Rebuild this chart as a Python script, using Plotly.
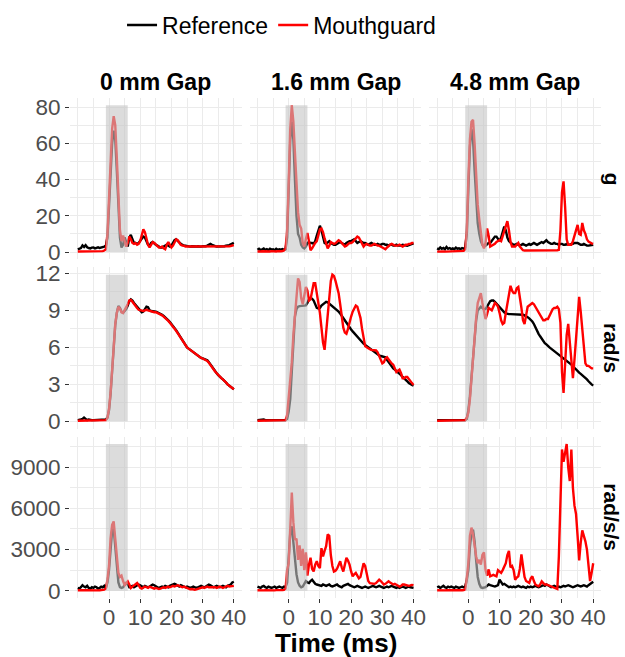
import numpy as np
import plotly.graph_objects as go
from plotly.subplots import make_subplots

# Sampling times (ms) shared by every trace
TIME_MS = np.arange(-10, 40.5, 0.5)

GAPS = ["0 mm Gap", "1.6 mm Gap", "4.8 mm Gap"]
UNITS = ["g", "rad/s", "rad/s/s"]
SERIES = ["Reference", "Mouthguard"]
SHADE_WINDOW = [-1, 6]          # impact window highlighted in every panel (ms)
X_TICKS = [0, 10, 20, 30, 40]
Y_TICKS = [[0, 20, 40, 60, 80], [0, 3, 6, 9, 12], [0, 3000, 6000, 9000]]

# ---- linear acceleration (g) ----
G_REF_0 = [1.5, 1.8, 2.2, 3.6, 2.8, 3.8, 2.6, 2.2, 2.0, 2.4,
           2.5, 2.0, 2.4, 2.6, 2.2, 2.4, 2.8, 3.0, 3.5, 8,
           25, 45, 60, 67, 62, 45, 25, 8, 2.5, 4,
           8, 5, 3, 8, 9.5, 7, 5, 5, 4.5, 5,
           6, 7, 8.5, 8, 6, 4, 3.5, 5, 5.5, 4.5,
           4, 3.5, 3, 2.5, 2.5, 3, 3.5, 4, 3.5, 3,
           3.5, 5, 6.5, 7, 6, 5, 4.5, 4, 3.5, 3.5,
           3.2, 3.0, 3.0, 3.2, 3.0, 2.8, 3.0, 3.2, 3.0, 3.0,
           3.2, 3.0, 3.2, 3.5, 3.8, 4.5, 4.0, 3.5, 3.2, 3.0,
           3.0, 3.2, 3.0, 3.0, 3.2, 3.5, 3.5, 3.8, 4.2, 4.8,
           5.0]
G_MG_0 = [0.3, 0.3, 0.4, 0.3, 0.3, 0.4, 0.3, 0.3, 0.3, 0.4,
          0.3, 0.3, 0.4, 0.3, 0.3, 0.4, 0.5, 0.8, 1.5, 10,
          30, 52, 68, 75, 70, 52, 30, 12, 6, 9,
          6, 3, 5, 8.5, 7, 5, 4.5, 5, 4, 4.5,
          6, 9, 12.5, 11, 7, 4, 2.5, 4, 5.5, 5,
          4, 3, 2.5, 2.5, 3, 2, 1.5, 4, 5.5, 4,
          2.5, 3.5, 5.5, 7, 6.5, 5, 4, 3.5, 3.5, 3,
          3, 3, 2.8, 2.8, 3, 3, 3, 2.8, 2.8, 3,
          3, 3, 3, 3.2, 3, 2.8, 2.8, 3, 3, 3,
          3, 3, 3.2, 3, 3, 3, 3, 3.2, 3.3, 3.5,
          3.8]
G_REF_16 = [1.2, 1.8, 1.0, 1.5, 2.0, 1.2, 1.6, 1.0, 1.8, 1.3,
            1.5, 1.0, 1.8, 1.2, 1.5, 1.3, 1.6, 1.2, 1.5, 8,
            35, 62, 72, 62, 40, 20, 10, 8, 4, 2.5,
            2, 3, 5, 5.5, 5, 5, 4.5, 6, 9, 12,
            14.5, 12, 8, 5, 4.5, 5.5, 6, 5, 4.5, 4,
            4, 4.5, 5, 5.5, 5, 4.5, 4, 5, 5.5, 6,
            6, 6.5, 7, 6, 5, 5.5, 6, 5.5, 5, 5,
            4.5, 4, 4.5, 5, 4.5, 4, 4, 4.5, 4, 4,
            4.5, 4.5, 4, 4, 3.5, 4, 4, 3.5, 3.5, 4,
            3.5, 3.5, 3.5, 4, 3.8, 3.5, 3.5, 3.8, 4, 4.5,
            4.8]
G_MG_16 = [0.3, 0.5, 0.3, 0.4, 0.3, 0.5, 0.3, 0.4, 0.3, 0.5,
           0.3, 0.4, 0.3, 0.5, 0.3, 0.4, 0.5, 0.8, 2, 12,
           38, 68, 81, 72, 55, 40, 22, 15, 13, 5,
           3, 7, 10.5, 6, 1, 2, 4, 5, 6, 9,
           12.5, 13, 11, 7.5, 4, 2, 3.5, 5.5, 5, 4.5,
           4.8, 5.5, 6.5, 6, 5, 4, 3, 3.5, 4.5, 5,
           5, 5.5, 6.5, 7.5, 8.5, 8, 6, 4, 3, 4,
           4.5, 4, 3.5, 3.5, 4, 4.5, 4, 3.5, 3.5, 3,
           2.5, 2, 1.5, 2.5, 3.5, 4, 4.5, 4, 3.5, 3.5,
           3.5, 4, 3.5, 3, 3.5, 4, 4, 4.5, 4.5, 5,
           5]
G_REF_48 = [2.0, 1.5, 2.5, 1.8, 2.2, 1.5, 2.8, 1.8, 2.2, 1.6,
            2.0, 1.5, 2.4, 1.8, 2.0, 1.6, 2.2, 1.8, 2.5, 10,
            35, 58, 68, 62, 45, 28, 16, 10, 6, 4,
            3, 3.5, 4.5, 5, 5, 6, 7, 8.5, 8.5, 7,
            6, 8, 11, 14, 12, 8, 6, 5, 4.5, 4,
            4, 4.5, 4, 3.5, 4, 4.5, 4, 3.5, 4, 4.5,
            4, 4.5, 5, 4.5, 4, 4.5, 5, 5.5, 5, 6,
            6.5, 5.5, 5, 4.5, 4.5, 5, 4.5, 4.5, 4, 4.5,
            4.5, 4, 4, 4.5, 4, 4, 4.5, 4.5, 5, 5.2,
            5, 4.5, 4, 4, 4.5, 4, 3.5, 3.5, 3.8, 4,
            4]
G_MG_48 = [0.2, 0.3, 0.2, 0.2, 0.3, 0.2, 0.2, 0.3, 0.2, 0.2,
           0.2, 0.3, 0.2, 0.3, 0.2, 0.3, 0.4, 0.6, 1.5, 12,
           40, 62, 72, 73, 60, 42, 26, 18, 10, 4,
           2, 5, 13, 9, 3, 3.5, 4, 4.5, 5.5, 6,
           6.5, 6, 8.5, 11, 14, 17, 12, 5.7, 3, 3,
           3, 4, 5, 3, 2, 1, 0.8, 0.8, 0.7, 0.8,
           0.8, 0.7, 0.8, 0.8, 0.7, 0.8, 0.7, 0.8, 0.8, 0.7,
           0.8, 0.7, 0.8, 0.7, 0.8, 0.8, 0.8, 1.0, 1.2, 12,
           33, 39, 25, 7, 4, 3.8, 4, 6, 9, 13,
           15, 10, 9.5, 16, 12, 10, 7, 5.7, 5, 4.8,
           4.5]

# ---- angular velocity (rad/s) ----
W_REF_0 = [0.1, 0.1, 0.15, 0.2, 0.3, 0.2, 0.1, 0.15, 0.1, 0.1,
           0.1, 0.1, 0.1, 0.1, 0.1, 0.1, 0.1, 0.1, 0.15, 0.3,
           0.9, 2.2, 4.0, 6.3, 7.8, 8.8, 9.35, 9.2, 8.9, 8.8,
           8.95, 9.1, 9.4, 9.75, 9.9, 9.8, 9.6, 9.45, 9.3, 9.1,
           8.95, 8.85, 8.9, 9.15, 9.3, 9.25, 9.0, 8.95, 8.95, 8.9,
           8.9, 8.85, 8.8, 8.7, 8.65, 8.55, 8.45, 8.35, 8.2, 8.05,
           7.9, 7.75, 7.6, 7.4, 7.2, 7.0, 6.75, 6.55, 6.35, 6.15,
           6.0, 5.9, 5.8, 5.7, 5.6, 5.5, 5.4, 5.3, 5.25, 5.15,
           5.1, 5.05, 5.0, 4.95, 4.8, 4.6, 4.4, 4.2, 4.05, 3.9,
           3.75, 3.6, 3.5, 3.4, 3.3, 3.15, 3.0, 2.9, 2.8, 2.7,
           2.6]
W_MG_0 = [0.05, 0.05, 0.05, 0.05, 0.05, 0.05, 0.05, 0.05, 0.05, 0.05,
          0.05, 0.05, 0.05, 0.05, 0.05, 0.05, 0.05, 0.06, 0.1, 0.3,
          1.0, 2.3, 4.1, 6.3, 7.9, 8.8, 9.3, 9.15, 8.85, 8.8,
          9.0, 9.2, 9.5, 9.8, 9.85, 9.7, 9.5, 9.35, 9.2, 9.05,
          9.0, 8.95, 8.95, 9.0, 9.05, 9.0, 8.95, 8.9, 8.9, 8.85,
          8.85, 8.8, 8.75, 8.7, 8.6, 8.5, 8.4, 8.3, 8.15, 8.0,
          7.85, 7.7, 7.55, 7.35, 7.15, 6.95, 6.75, 6.55, 6.35, 6.15,
          6.0, 5.9, 5.8, 5.7, 5.6, 5.5, 5.4, 5.3, 5.2, 5.15,
          5.1, 5.05, 5.0, 4.9, 4.75, 4.55, 4.35, 4.2, 4.05, 3.9,
          3.75, 3.6, 3.5, 3.4, 3.3, 3.15, 3.0, 2.9, 2.8, 2.7,
          2.6]
W_REF_16 = [0.1, 0.12, 0.1, 0.1, 0.15, 0.1, 0.1, 0.12, 0.1, 0.1,
            0.1, 0.1, 0.12, 0.1, 0.1, 0.1, 0.12, 0.1, 0.1, 0.2,
            0.8, 1.8, 4.0, 6.5, 8.5, 9.1, 9.3, 9.35, 9.35, 9.4,
            9.4, 9.4, 9.6, 9.9, 10.0, 9.95, 9.8, 9.5, 9.2, 9.15,
            9.2, 9.4, 9.5, 9.65, 9.7, 9.65, 9.55, 9.45, 9.35, 9.25,
            9.1, 9.0, 8.9, 8.75, 8.55, 8.35, 8.15, 7.95, 7.8, 7.6,
            7.45, 7.3, 7.15, 7.0, 6.85, 6.7, 6.55, 6.4, 6.3, 6.2,
            6.1, 6.0, 5.9, 5.8, 5.7, 5.6, 5.5, 5.4, 5.35, 5.3,
            5.25, 5.2, 5.2, 5.0, 4.8, 4.6, 4.4, 4.3, 4.2, 4.1,
            4.0, 3.9, 3.75, 3.6, 3.5, 3.4, 3.25, 3.1, 3.0, 2.95,
            2.9]
W_MG_16 = [0.05, 0.05, 0.05, 0.05, 0.05, 0.05, 0.05, 0.05, 0.05, 0.05,
           0.05, 0.05, 0.05, 0.05, 0.05, 0.05, 0.05, 0.08, 0.1, 0.5,
           1.9, 3.3, 4.8, 7.0, 8.8, 10.5, 11.6, 11.3, 10.0, 9.5,
           10.4, 10.9, 10.6, 9.8, 9.9, 10.7, 11.2, 11.2, 10.5, 9.6,
           8.8, 7.6, 6.4, 5.8, 7.2, 8.7, 10.3, 11.4, 11.9, 11.8,
           11.4, 11.0, 10.4, 9.5, 8.4, 7.6, 7.2, 7.1, 7.5, 8.1,
           8.5, 8.9, 9.2, 9.4, 9.3, 8.9, 8.4, 7.5, 6.6, 6.1,
           6.0, 5.9, 5.85, 5.8, 5.8, 5.8, 5.75, 5.6, 5.3, 5.0,
           4.7, 4.8, 5.1, 5.2, 5.0, 4.8, 4.7, 4.6, 4.3, 4.0,
           4.1, 4.2, 3.9, 3.5, 3.5, 3.6, 3.6, 3.4, 3.2, 3.1,
           2.95]
W_REF_48 = [0.1, 0.1, 0.12, 0.1, 0.1, 0.12, 0.1, 0.1, 0.1, 0.12,
            0.1, 0.1, 0.1, 0.12, 0.1, 0.1, 0.1, 0.1, 0.1, 0.2,
            0.9, 2.0, 3.6, 5.4, 7.1, 8.2, 9.0, 9.2, 9.3, 9.2,
            9.1, 9.1, 9.3, 9.6, 9.75, 9.8, 9.8, 9.7, 9.55, 9.4,
            9.25, 9.1, 8.95, 8.85, 8.75, 8.7, 8.7, 8.7, 8.7, 8.7,
            8.7, 8.7, 8.7, 8.7, 8.7, 8.65, 8.6, 8.55, 8.45, 8.35,
            8.25, 8.1, 7.9, 7.6, 7.3, 7.1, 6.9, 6.7, 6.5, 6.35,
            6.25, 6.1, 6.0, 5.9, 5.8, 5.75, 5.65, 5.55, 5.45, 5.35,
            5.25, 5.15, 5.05, 4.95, 4.85, 4.75, 4.6, 4.5, 4.35, 4.2,
            4.05, 3.95, 3.85, 3.75, 3.6, 3.5, 3.4, 3.25, 3.1, 3.0,
            2.9]
W_MG_48 = [0.05, 0.05, 0.05, 0.05, 0.05, 0.05, 0.05, 0.05, 0.05, 0.05,
           0.05, 0.05, 0.05, 0.05, 0.05, 0.05, 0.05, 0.05, 0.1, 0.3,
           0.7, 1.8, 3.6, 5.3, 7.1, 8.4, 9.6, 10.0, 10.4, 9.6,
           8.8, 8.3, 8.7, 9.2, 9.1, 9.0, 9.3, 9.6, 9.5, 9.3,
           8.8, 8.2, 7.9, 8.0, 8.8, 9.6, 10.5, 11.0, 10.6, 10.4,
           10.4, 10.8, 10.9, 10.2, 9.2, 8.2, 7.9, 8.6, 9.3, 9.4,
           9.5, 9.6, 9.5, 9.3, 9.1, 8.9, 8.6, 8.4, 8.2, 8.2,
           8.3, 8.3, 8.6, 8.9, 9.1, 9.2, 9.2, 9.3, 9.1, 8.0,
           4.0, 2.3, 5.0, 7.0, 7.9, 6.2, 4.5, 3.5, 5.0, 6.9,
           9.0, 10.1, 8.9, 7.4, 5.8, 4.7, 4.5, 4.5, 4.4, 4.3,
           4.3]

# ---- angular acceleration (rad/s/s) ----
A_REF_0 = [200, 150, 250, 400, 300, 250, 350, 200, 150, 250,
           200, 300, 250, 150, 200, 300, 250, 350, 200, 600,
           1500, 3400, 4400, 4500, 3200, 1600, 600, 250, 200, 250,
           400, 550, 450, 250, 300, 350, 250, 300, 350, 450,
           400, 300, 250, 350, 300, 250, 300, 350, 450, 400,
           300, 250, 200, 250, 300, 250, 350, 300, 250, 350,
           400, 450, 500, 450, 350, 300, 400, 350, 300, 250,
           300, 250, 200, 250, 300, 250, 200, 250, 300, 350,
           300, 250, 300, 350, 450, 400, 300, 250, 300, 350,
           300, 250, 300, 350, 300, 250, 350, 400, 450, 600,
           650]
A_MG_0 = [30, 20, 40, 30, 20, 30, 40, 30, 20, 30,
          30, 40, 30, 20, 30, 40, 50, 80, 150, 800,
          1800, 3800, 4800, 5050, 3800, 2400, 1300, 1000, 1100, 700,
          420, 550, 680, 450, 200, 300, 400, 450, 560, 400,
          200, 150, 250, 300, 250, 200, 300, 250, 200, 150,
          200, 150, 120, 150, 200, 250, 200, 250, 300, 250,
          300, 350, 300, 350, 400, 350, 300, 250, 300, 250,
          200, 150, 100, 120, 80, 70, 100, 150, 200, 250,
          250, 200, 250, 300, 250, 250, 300, 300, 250, 200,
          250, 300, 250, 200, 250, 300, 350, 300, 300, 350,
          350]
A_REF_16 = [300, 250, 200, 300, 350, 250, 200, 300, 250, 200,
            250, 300, 200, 250, 300, 250, 200, 300, 250, 600,
            2200, 4200, 4700, 3600, 2200, 1200, 600, 350, 250, 300,
            500, 700, 600, 550, 700, 800, 650, 500, 450, 400,
            400, 350, 450, 400, 350, 400, 450, 350, 300, 350,
            400, 450, 350, 300, 250, 350, 400, 450, 500, 400,
            350, 300, 250, 300, 350, 300, 250, 200, 250, 300,
            250, 200, 250, 300, 350, 300, 250, 300, 350, 300,
            250, 200, 250, 300, 250, 300, 350, 300, 250, 200,
            250, 200, 250, 300, 250, 200, 250, 300, 250, 200,
            200]
A_MG_16 = [30, 20, 40, 30, 20, 40, 30, 20, 30, 40,
           30, 20, 40, 30, 20, 30, 40, 60, 150, 1500,
           2000, 4500, 7150, 5000, 3700, 3800, 2250, 3300, 1800, 3050,
           1500, 2800, 1100, 1900, 2400, 1600, 1400, 1900, 2150, 1800,
           1650, 3100, 2500, 2900, 3250, 4100, 4000, 2600, 1800, 1400,
           1450, 1600, 1900, 2150, 1700, 1400, 1900, 2400, 2200, 1900,
           1400, 1050, 1200, 1300, 1100, 900, 1000, 1500, 2000, 1800,
           1100, 700, 550, 520, 500, 500, 550, 650, 800, 700,
           550, 450, 500, 600, 680, 600, 500, 450, 500, 420,
           350, 300, 350, 450, 450, 400, 380, 350, 380, 420,
           400]
A_REF_48 = [250, 300, 200, 250, 350, 250, 200, 300, 250, 300,
            250, 200, 300, 250, 200, 250, 300, 250, 300, 800,
            1500, 3200, 4200, 4450, 3600, 2200, 1000, 500, 250, 200,
            200, 250, 350, 450, 400, 350, 300, 300, 350, 400,
            800, 600, 450, 500, 400, 300, 250, 300, 250, 300,
            250, 300, 350, 300, 250, 300, 250, 200, 300, 250,
            300, 250, 300, 350, 300, 250, 300, 350, 400, 350,
            450, 400, 300, 250, 300, 350, 300, 250, 300, 250,
            300, 350, 300, 350, 400, 350, 300, 250, 300, 350,
            400, 350, 300, 350, 400, 350, 300, 400, 500, 600,
            650]
A_MG_48 = [30, 20, 30, 40, 30, 20, 30, 40, 30, 20,
           30, 40, 30, 20, 30, 40, 30, 50, 100, 900,
           2000, 4000, 4600, 4100, 3200, 2500, 2000, 2250, 1900, 2600,
           2800, 1500, 1100, 1550, 1050, 1100, 1150, 1100, 1050, 1500,
           1400, 1300, 1500, 1800, 2000, 2600, 2900, 1700, 1800, 1500,
           800, 950, 1050, 1600, 2650, 1800, 1000, 700, 600, 560,
           900, 1050, 700, 440, 380, 320, 450, 680, 550, 450,
           450, 400, 350, 300, 250, 200, 150, 120, 2500, 7500,
           10300, 9400, 10000, 10700, 9000, 8000, 10300, 7500, 6200, 5600,
           4000, 2200, 3500, 4400, 4000, 3600, 3000, 2000, 700, 1300,
           2000]

REFERENCE = [[G_REF_0, G_REF_16, G_REF_48],
             [W_REF_0, W_REF_16, W_REF_48],
             [A_REF_0, A_REF_16, A_REF_48]]
MOUTHGUARD = [[G_MG_0, G_MG_16, G_MG_48],
              [W_MG_0, W_MG_16, W_MG_48],
              [A_MG_0, A_MG_16, A_MG_48]]

FONT = "Liberation Sans, Arial, sans-serif"
GRID = "#EBEBEB"
TICK_TEXT = "#4D4D4D"
LINE_COLORS = {"Reference": "black", "Mouthguard": "#FF0000"}

fig = make_subplots(rows=3, cols=3, horizontal_spacing=0.0151, vertical_spacing=0.016)

for r in range(3):
    for c in range(3):
        for name, data in (("Reference", REFERENCE[r][c]), ("Mouthguard", MOUTHGUARD[r][c])):
            fig.add_trace(
                go.Scatter(x=TIME_MS, y=data, mode="lines", name=name,
                           line=dict(color=LINE_COLORS[name], width=2.4),
                           showlegend=(r == 0 and c == 0), legendgroup=name),
                row=r + 1, col=c + 1)

# x axes: shared time scale with ggplot-style 5% expansion
t_lo, t_hi = float(TIME_MS.min()), float(TIME_MS.max())
t_pad = 0.05 * (t_hi - t_lo)
x_minor = [v for v in np.arange(t_lo, t_hi + 0.1, 5) if v not in X_TICKS]

for r in range(3):
    row_vals = [v for c in range(3) for v in REFERENCE[r][c] + MOUTHGUARD[r][c]]
    y_lo, y_hi = min(0.0, min(row_vals)), max(row_vals)
    y_pad = 0.05 * (y_hi - y_lo)
    step = Y_TICKS[r][1] - Y_TICKS[r][0]
    y_minor = [v + step / 2 for v in Y_TICKS[r] if y_lo - y_pad <= v + step / 2 <= y_hi + y_pad]
    for c in range(3):
        # shaded impact window spanning the row's data range
        fig.add_shape(type="rect", x0=SHADE_WINDOW[0], x1=SHADE_WINDOW[1], y0=0, y1=y_hi,
                      line=dict(width=0), fillcolor="rgba(196,196,196,0.6)", layer="above",
                      row=r + 1, col=c + 1)
        fig.update_xaxes(
            range=[t_lo - t_pad, t_hi + t_pad], tickvals=X_TICKS,
            showgrid=True, gridcolor=GRID, gridwidth=1.1, zeroline=False, showline=False,
            minor=dict(tickvals=x_minor, showgrid=True, gridcolor=GRID, gridwidth=0.6, ticks=""),
            ticks="outside" if r == 2 else "", ticklen=4, tickcolor="#333333", tickwidth=1,
            ticklabelstandoff=-5,
            showticklabels=(r == 2), tickfont=dict(family=FONT, size=22.5, color=TICK_TEXT),
            row=r + 1, col=c + 1)
        fig.update_yaxes(
            range=[y_lo - y_pad, y_hi + y_pad], tickvals=Y_TICKS[r],
            showgrid=True, gridcolor=GRID, gridwidth=1.1, zeroline=False, showline=False,
            minor=dict(tickvals=y_minor, showgrid=True, gridcolor=GRID, gridwidth=0.6, ticks=""),
            ticks="outside" if c == 0 else "", ticklen=4, tickcolor="#333333", tickwidth=1,
            showticklabels=(c == 0), tickfont=dict(family=FONT, size=22.5, color=TICK_TEXT),
            row=r + 1, col=c + 1)

annotations = []
for c, gap in enumerate(GAPS):
    dom = fig.layout["xaxis" + ("" if c == 0 else str(c + 1))].domain
    annotations.append(dict(text="<b>" + gap + "</b>", x=(dom[0] + dom[1]) / 2, y=1,
                            xref="paper", yref="paper", xanchor="center", yanchor="bottom",
                            yshift=1, showarrow=False, font=dict(family=FONT, size=23, color="black")))
for r, unit in enumerate(UNITS):
    dom = fig.layout["yaxis" + ("" if r == 0 else str(3 * r + 1))].domain
    annotations.append(dict(text="<b>" + unit + "</b>", x=1, y=(dom[0] + dom[1]) / 2,
                            xref="paper", yref="paper", xanchor="center", yanchor="middle",
                            xshift=11, textangle=90, showarrow=False,
                            font=dict(family=FONT, size=21, color="black")))
annotations.append(dict(text="<b>Time (ms)</b>", x=0.5, y=0, xref="paper", yref="paper",
                        xanchor="center", yanchor="top", yshift=-28, showarrow=False,
                        font=dict(family=FONT, size=26, color="black")))

fig.update_layout(
    width=625, height=657,
    margin=dict(l=70, r=24, t=98, b=59, autoexpand=False),
    paper_bgcolor="white", plot_bgcolor="white",
    font=dict(family=FONT, color="black"),
    annotations=annotations,
    legend=dict(orientation="h", x=0.098, xanchor="left", y=1.146, yanchor="middle",
                font=dict(family=FONT, size=23, color="black"), itemwidth=30,
                bgcolor="rgba(0,0,0,0)", traceorder="normal"),
)

fig.write_html("out.html")
